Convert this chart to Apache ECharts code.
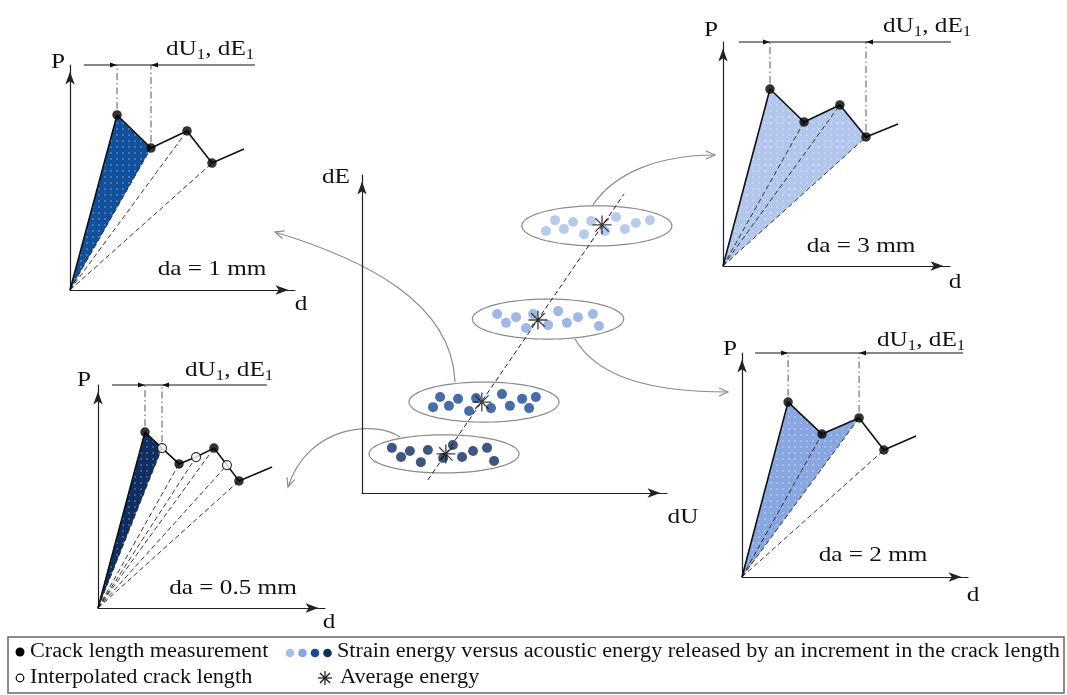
<!DOCTYPE html>
<html><head><meta charset="utf-8">
<script src="https://cdn.jsdelivr.net/npm/echarts@6/dist/echarts.min.js"></script>
<style>html,body{margin:0;padding:0;background:#fff}#c{width:1067px;height:695px}</style>
</head><body><div id="c"></div>
<script>
// ================= DATA =================
const ORIGIN = [0, 0];
// load P vs displacement d, measured crack-length points (0..10 schematic units)
const curveA = [[2.09, 7.78], [3.60, 6.31], [5.20, 7.07], [6.31, 5.64]];   // da = 1 mm
const tailA = [7.73, 6.27];
const curveB = [[2.07, 7.90], [3.57, 6.43], [5.15, 7.19], [6.30, 5.76]];   // da = 3 mm
const tailB = [7.71, 6.34];
const curveC = [[2.07, 7.89], [3.57, 6.46], [5.11, 7.17], [6.21, 5.70]];   // da = 0.5 mm
const interpC = [[2.82, 7.17], [4.32, 6.77], [5.68, 6.41]];                // interpolated crack lengths
const tailC = [7.67, 6.32];
const curveD = [[2.04, 7.81], [3.54, 6.38], [5.18, 7.10], [6.28, 5.67]];   // da = 2 mm
const tailD = [7.70, 6.29];
const dimLevel = 10;
const dimSpanA = [0.62, 8.22];
const dimSpanB = [0.70, 11.0];
const dimSpanC = [0.62, 7.44];
const dimSpanD = [0.58, 9.78];

// central dE vs dU clusters
const cluster05 = [[0.98,1.42],[1.28,1.13],[1.57,1.32],[1.93,0.97],[2.16,1.35],[2.66,1.10],[2.98,1.51],[3.28,1.13],[3.64,1.32],[4.10,1.42],[4.33,1.01]];
const cluster1 = [[2.33,2.70],[2.56,3.02],[2.85,2.74],[3.15,2.96],[3.51,2.58],[3.74,2.99],[4.23,2.67],[4.59,3.11],[4.85,2.74],[5.25,2.96],[5.48,2.67],[5.70,3.02]];
const cluster2 = [[4.43,5.63],[4.72,5.35],[5.05,5.53],[5.38,5.19],[5.61,5.63],[6.10,5.28],[6.43,5.72],[6.72,5.35],[7.08,5.53],[7.57,5.63],[7.77,5.25]];
const cluster3 = [[6.03,8.24],[6.33,8.58],[6.62,8.30],[6.92,8.52],[7.28,8.14],[7.51,8.55],[7.97,8.24],[8.33,8.68],[8.62,8.30],[8.98,8.49],[9.44,8.58]];
const averages = [[2.75,1.23],[3.93,2.86],[5.77,5.44],[7.87,8.43]];
const ellipses = [[2.69,1.23,2.46,0.60],[4.00,2.86,2.46,0.63],[6.10,5.47,2.48,0.63],[7.70,8.40,2.46,0.63]];
const trend = [[2.16,0.41],[8.59,9.40]];

// texts
const panelTitles = ['da = 1 mm', 'da = 3 mm', 'da = 0.5 mm', 'da = 2 mm'];
const legendTexts = ['Crack length measurement', 'Strain energy versus acoustic energy released by an increment in the crack length', 'Interpolated crack length', 'Average energy'];

// ================= LAYOUT / STYLE =================
const FAM = '"Liberation Serif","Times New Roman",serif';
const S = 1.2, FS = 21, LS = 1.112, LFS = 20;
const colDarkest = '#0f2c62', colDark = '#184994', colLight = '#88a6de', colLighter = '#a8bee8';
const grids = [
  {left: 70, top: 65, width: 225, height: 225},
  {left: 723, top: 42, width: 227, height: 224},
  {left: 98, top: 385, width: 227, height: 223},
  {left: 742, top: 353, width: 226, height: 224},
  {left: 362, top: 175, width: 305, height: 318}
];
const panels = [
  {curve: curveA, interp: [], tail: tailA, fillEnd: 1, span: dimSpanA, fill: '#10509c'},
  {curve: curveB, interp: [], tail: tailB, fillEnd: 3, span: dimSpanB, fill: '#b3c6eb'},
  {curve: curveC, interp: interpC, tail: tailC, fillEnd: 1, span: dimSpanC, fill: '#0f2f63'},
  {curve: curveD, interp: [], tail: tailD, fillEnd: 2, span: dimSpanD, fill: '#88a6df'}
];

function pattern(color) {
  const c = document.createElement('canvas'); c.width = 6; c.height = 6;
  const g = c.getContext('2d');
  g.fillStyle = color; g.fillRect(0, 0, 6, 6);
  g.fillStyle = 'rgba(255,255,255,0.55)';
  g.beginPath(); g.arc(3, 3, 0.75, 0, Math.PI * 2); g.fill();
  return {image: c, repeat: 'repeat'};
}

const xAxis = [], yAxis = [];
grids.forEach((g, i) => {
  const ax = {
    gridIndex: i, type: 'value', min: 0, max: 10,
    axisLine: {show: true, onZero: false, symbol: ['none', 'arrow'], symbolSize: [7, 13], symbolOffset: [0, -6.5], lineStyle: {color: '#222', width: 1.2}},
    axisTick: {show: false}, axisLabel: {show: false}, splitLine: {show: false}
  };
  xAxis.push(Object.assign({}, ax));
  yAxis.push(Object.assign({}, ax));
});

const series = [];
panels.forEach((p, i) => {
  const pts = p.curve.concat(p.interp).sort((a, b) => a[0] - b[0]);
  const fillPts = [ORIGIN].concat(pts.slice(0, p.fillEnd + 1));
  const axis = {xAxisIndex: i, yAxisIndex: i};
  const pat = pattern(p.fill);
  series.push(Object.assign({
    type: 'custom', z: 1, silent: true, data: [[0, 0]],
    renderItem: (params, api) => ({type: 'polygon', shape: {points: fillPts.map(q => api.coord(q))}, style: {fill: pat, stroke: null}})
  }, axis));
  series.push(Object.assign({
    type: 'custom', z: 2, silent: true, data: pts.slice(1),
    renderItem: (params, api) => {
      const a = api.coord(ORIGIN), b = api.coord([api.value(0), api.value(1)]);
      return {type: 'line', shape: {x1: a[0], y1: a[1], x2: b[0], y2: b[1]}, style: {stroke: '#222', lineWidth: 0.9, lineDash: [5, 3]}};
    }
  }, axis));
  series.push(Object.assign({
    type: 'line', z: 3, silent: true, symbol: 'none', data: [ORIGIN].concat(pts, [p.tail]),
    lineStyle: {color: '#111', width: 1.6}
  }, axis));
  series.push(Object.assign({
    type: 'scatter', z: 4, silent: true, symbolSize: 9.5, data: p.curve, itemStyle: {color: '#000'}
  }, axis));
  if (p.interp.length) series.push(Object.assign({
    type: 'scatter', z: 4, silent: true, symbolSize: 9, data: p.interp, itemStyle: {color: '#fff', borderColor: '#000', borderWidth: 1.2}
  }, axis));
  const dims = [[pts[0][0], pts[0][1], 1], [pts[p.fillEnd][0], pts[p.fillEnd][1], -1]];
  series.push(Object.assign({
    type: 'custom', z: 3, silent: true, data: dims,
    renderItem: (params, api) => {
      const a = api.coord([api.value(0), api.value(1)]);
      const t = api.coord([api.value(0), dimLevel]);
      const d = api.value(2);
      return {type: 'group', children: [
        {type: 'line', shape: {x1: a[0], y1: a[1] - 6, x2: t[0], y2: t[1]}, style: {stroke: '#444', lineWidth: 0.9, lineDash: [7, 3, 1.5, 3]}},
        {type: 'polygon', shape: {points: [[t[0], t[1]], [t[0] - d * 7, t[1] - 2.6], [t[0] - d * 7, t[1] + 2.6]]}, style: {fill: '#111'}}
      ]};
    }
  }, axis));
  series.push(Object.assign({
    type: 'line', z: 3, silent: true, clip: false, symbol: 'none',
    data: [[p.span[0], dimLevel], [p.span[1], dimLevel]], lineStyle: {color: '#111', width: 1}
  }, axis));
});

// central plot
const cAxis = {xAxisIndex: 4, yAxisIndex: 4};
series.push(Object.assign({
  type: 'custom', z: 1, silent: true, data: ellipses,
  renderItem: (params, api) => {
    const c = api.coord([api.value(0), api.value(1)]);
    const s = api.size([api.value(2), api.value(3)]);
    const ptsE = [];
    for (let k = 0; k < 90; k++) { const t = k / 90 * Math.PI * 2; ptsE.push([c[0] + s[0] * Math.cos(t), c[1] + s[1] * Math.sin(t)]); }
    return {type: 'polygon', shape: {points: ptsE}, style: {fill: 'none', stroke: '#8a8a8a', lineWidth: 1.2}};
  }
}, cAxis));
[[cluster05, colDarkest], [cluster1, colDark], [cluster2, colLight], [cluster3, colLighter]].forEach(([d, c]) => {
  series.push(Object.assign({type: 'scatter', z: 3, silent: true, symbolSize: 10, data: d, itemStyle: {color: c}}, cAxis));
});
series.push(Object.assign({type: 'line', z: 4, silent: true, symbol: 'none', data: trend, lineStyle: {color: '#222', width: 1, type: [5, 3]}}, cAxis));
const STAR = 'path://M0,-10L0,10M-10,0L10,0M-7.07,-7.07L7.07,7.07M-7.07,7.07L7.07,-7.07';
series.push(Object.assign({type: 'scatter', z: 5, silent: true, symbol: STAR, symbolSize: 19, data: averages,
  itemStyle: {color: 'rgba(0,0,0,0)', borderColor: '#111', borderWidth: 1.3}}, cAxis));

// ================= TEXT & ANNOTATION GRAPHICS =================
const mctx = document.createElement('canvas').getContext('2d');
function tw(s, size) { mctx.font = size + 'px ' + FAM; return mctx.measureText(s).width; }
function T(x, y, s, align, size, sx) {
  return {type: 'text', x: x, y: y, scaleX: sx || S, z: 100, silent: true,
    style: {text: s, fontFamily: FAM, fontSize: size || FS, fill: '#111', align: align || 'left', verticalAlign: 'middle'}};
}
function dimLabel(x, y) {
  const parts = [['dU', FS, 0], ['1', 14, 6], [', dE', FS, 0], ['1', 14, 6]];
  let cx = x; const els = [];
  parts.forEach(q => { els.push(T(cx, y + q[2], q[0], 'left', q[1])); cx += tw(q[0], q[1]) * S; });
  return els;
}
const graphic = [];
// panel labels
[[58, 62], [711, 30], [84, 380], [730, 349]].forEach(q => graphic.push(T(q[0], q[1], 'P', 'center')));
[[301, 304], [955, 282], [329, 622], [973, 595]].forEach(q => graphic.push(T(q[0], q[1], 'd', 'center')));
[[212, 269], [861, 246], [233, 588], [873, 555]].forEach((q, i) => graphic.push(T(q[0], q[1], panelTitles[i], 'center')));
[[166, 49], [883, 26], [185, 370], [877, 340]].forEach(q => dimLabel(q[0], q[1]).forEach(e => graphic.push(e)));
graphic.push(T(336, 177, 'dE', 'center'));
graphic.push(T(683, 517, 'dU', 'center'));

// grey connector arrows
function connector(p0, p1, p2, p3) {
  const dx = p3[0] - p2[0], dy = p3[1] - p2[1], L = Math.hypot(dx, dy);
  const ux = dx / L, uy = dy / L, px = -uy, py = ux;
  graphic.push({type: 'bezierCurve', silent: true, z: 0,
    shape: {x1: p0[0], y1: p0[1], cpx1: p1[0], cpy1: p1[1], cpx2: p2[0], cpy2: p2[1], x2: p3[0], y2: p3[1]},
    style: {stroke: '#8c8c8c', lineWidth: 1.2, fill: null}});
  graphic.push({type: 'polyline', silent: true, z: 0,
    shape: {points: [[p3[0] - 9 * ux + 4 * px, p3[1] - 9 * uy + 4 * py], p3, [p3[0] - 9 * ux - 4 * px, p3[1] - 9 * uy - 4 * py]]},
    style: {stroke: '#8c8c8c', lineWidth: 1.2, fill: null}});
}
connector([455, 382], [452, 300], [360, 258], [275, 232]);
connector([400, 437], [375, 420], [308, 425], [288, 487]);
connector([593, 205], [615, 172], [660, 155], [715, 155]);
connector([575, 339], [597, 377], [650, 392], [728, 392]);

// legend box
graphic.push({type: 'rect', silent: true, z: 50, shape: {x: 8, y: 637, width: 1056, height: 56}, style: {fill: null, stroke: '#666', lineWidth: 1.5}});
graphic.push({type: 'circle', silent: true, z: 60, shape: {cx: 20, cy: 652, r: 4.5}, style: {fill: '#000'}});
graphic.push(T(30, 652, legendTexts[0], 'left', LFS, LS));
[colLighter, colLight, colDark, colDarkest].forEach((c, k) => graphic.push({type: 'circle', silent: true, z: 60, shape: {cx: 290 + k * 12.5, cy: 653, r: 4.3}, style: {fill: c}}));
graphic.push(T(337, 652, legendTexts[1], 'left', LFS, LS));
graphic.push({type: 'circle', silent: true, z: 60, shape: {cx: 20, cy: 678, r: 3.8}, style: {fill: '#fff', stroke: '#000', lineWidth: 1.2}});
graphic.push(T(30, 678, legendTexts[2], 'left', LFS, LS));
(function () {
  const cx = 325, cy = 678, r = 7;
  [[0, -r, 0, r], [-r, 0, r, 0], [-r * 0.72, -r * 0.72, r * 0.72, r * 0.72], [-r * 0.72, r * 0.72, r * 0.72, -r * 0.72]].forEach(l =>
    graphic.push({type: 'line', silent: true, z: 60, shape: {x1: cx + l[0], y1: cy + l[1], x2: cx + l[2], y2: cy + l[3]}, style: {stroke: '#111', lineWidth: 1.2}}));
})();
graphic.push(T(340, 678, legendTexts[3], 'left', LFS, LS));

const chart = echarts.init(document.getElementById('c'), null, {renderer: 'canvas'});
chart.setOption({
  animation: false,
  backgroundColor: '#fff',
  grid: grids.map(g => Object.assign({containLabel: false}, g)),
  xAxis: xAxis, yAxis: yAxis,
  series: series,
  graphic: graphic
});
</script></body></html>
